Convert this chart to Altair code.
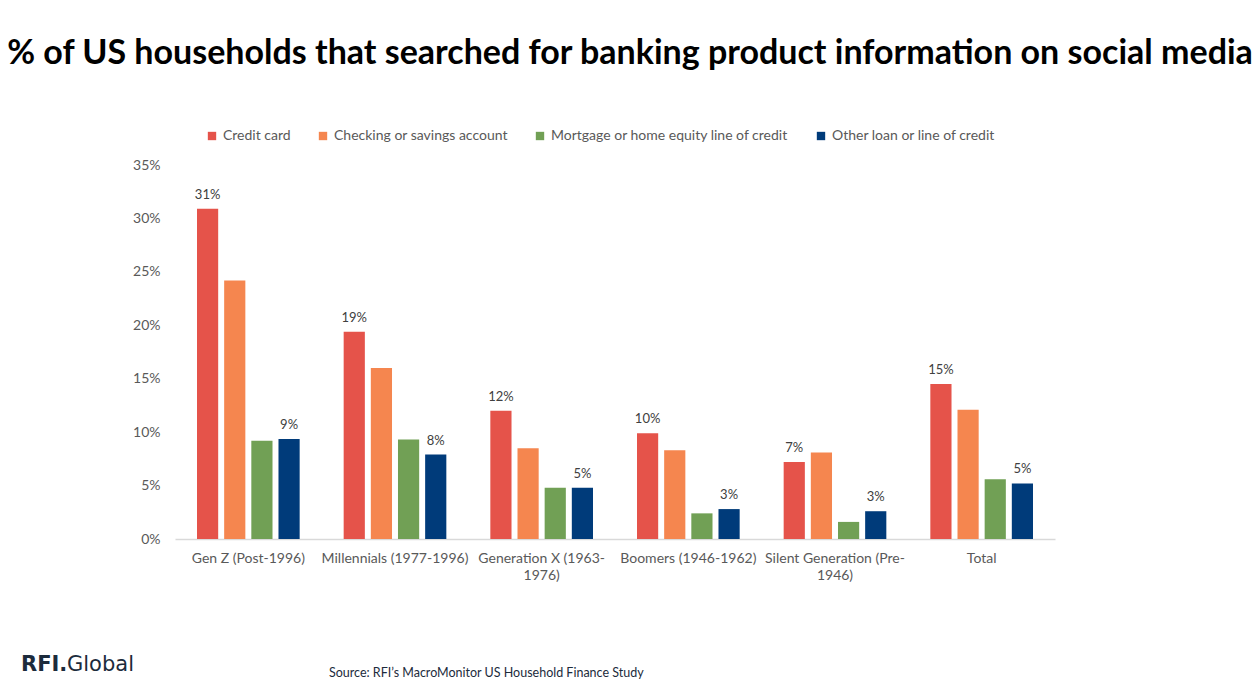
import altair as alt
import pandas as pd

categories = ["Gen Z (Post-1996)", "Millennials (1977-1996)", "Generation X (1963-|1976)",
              "Boomers (1946-1962)", "Silent Generation (Pre-|1946)", "Total"]
series = ["Credit card", "Checking or savings account",
          "Mortgage or home equity line of credit", "Other loan or line of credit"]
credit_card = [30.9, 19.4, 12.0, 9.9, 7.2, 14.5]
checking = [24.2, 16.0, 8.5, 8.3, 8.1, 12.1]
mortgage = [9.2, 9.3, 4.8, 2.4, 1.6, 5.6]
other_loan = [9.35, 7.9, 4.8, 2.8, 2.6, 5.2]
credit_labels = ["31%", "19%", "12%", "10%", "7%", "15%"]
other_labels = ["9%", "8%", "5%", "3%", "3%", "5%"]
colors = ["#E5534A", "#F5864F", "#71A055", "#003B7A"]
y_ticks = [0, 5, 10, 15, 20, 25, 30, 35]

rows = []
values_by_series = [credit_card, checking, mortgage, other_loan]
labels_by_series = [credit_labels, None, None, other_labels]
for s, vals, labs in zip(series, values_by_series, labels_by_series):
    for i, c in enumerate(categories):
        rows.append({"category": c, "series": s, "value": vals[i] / 100,
                     "label": labs[i] if labs else ""})
df = pd.DataFrame(rows)

FONT = "Lato"
TXT = "#595959"

x = alt.X("category:N", sort=categories, title=None,
          scale=alt.Scale(paddingInner=0.3, paddingOuter=0.15),
          axis=alt.Axis(labelAngle=0, labelExpr="split(datum.label, '|')",
                        labelFontSize=14, labelColor=TXT, labelFont=FONT,
                        labelPadding=12, labelLineHeight=17,
                        ticks=False, domainColor="#D9D9D9", domainWidth=1.5))
xo = alt.XOffset("series:N", sort=series,
                 scale=alt.Scale(domain=series, paddingInner=0.22))

bars = alt.Chart(df).mark_bar().encode(
    x=x,
    xOffset=xo,
    y=alt.Y("value:Q", title=None,
            scale=alt.Scale(domain=[0, 0.35], nice=False),
            axis=alt.Axis(values=[v / 100 for v in y_ticks], format=".0%",
                          grid=False, ticks=False, domain=False,
                          labelFontSize=14, labelColor=TXT, labelFont=FONT,
                          labelPadding=15)),
    color=alt.Color("series:N", sort=series,
                    scale=alt.Scale(domain=series, range=colors),
                    legend=alt.Legend(title=None, orient="none", direction="horizontal",
                                      legendX=30, legendY=-36,
                                      symbolType="square", symbolSize=70,
                                      symbolStrokeWidth=0, labelLimit=0,
                                      labelFontSize=14, labelColor=TXT, labelFont=FONT,
                                      labelOffset=4, columnPadding=25)),
)

texts = alt.Chart(df).transform_filter("datum.label != ''").mark_text(
    baseline="bottom", dy=-7, fontSize=13, color="#404040", font=FONT
).encode(
    x=alt.X("category:N", sort=categories),
    xOffset=xo,
    y="value:Q",
    text="label:N",
)

footer_df = pd.DataFrame({"a": [1]})
logo1 = alt.Chart(footer_df).mark_text(
    text="RFI.", align="left", baseline="middle", fontSize=21, fontWeight="bold",
    color="#1C2B3C", font="DejaVu Sans"
).encode(x=alt.value(-154), y=alt.value(500))
logo2 = alt.Chart(footer_df).mark_text(
    text="Global", align="left", baseline="middle", fontSize=21, fontWeight="normal",
    color="#1C2B3C", font="DejaVu Sans"
).encode(x=alt.value(-108), y=alt.value(500))
source = alt.Chart(footer_df).mark_text(
    text="Source: RFI\u2019s MacroMonitor US Household Finance Study", align="left",
    baseline="middle", fontSize=12.5, color="#1C2B3C", font=FONT
).encode(x=alt.value(154), y=alt.value(508))

chart = alt.layer(bars, texts, logo1, logo2, source).properties(
    width=880, height=374,
    background="white",
    title=alt.TitleParams(
        "% of US households that searched for banking product information on social media",
        font=FONT, fontSize=34, fontWeight="bold", color="#000000",
        anchor="middle", dx=15, offset=58),
    autosize=alt.AutoSizeParams(type="none"),
    padding={"left": 175, "top": 165, "right": 205, "bottom": 150},
).configure_view(stroke=None)

chart.save("out.html", embed_options={"renderer": "svg", "actions": False})
